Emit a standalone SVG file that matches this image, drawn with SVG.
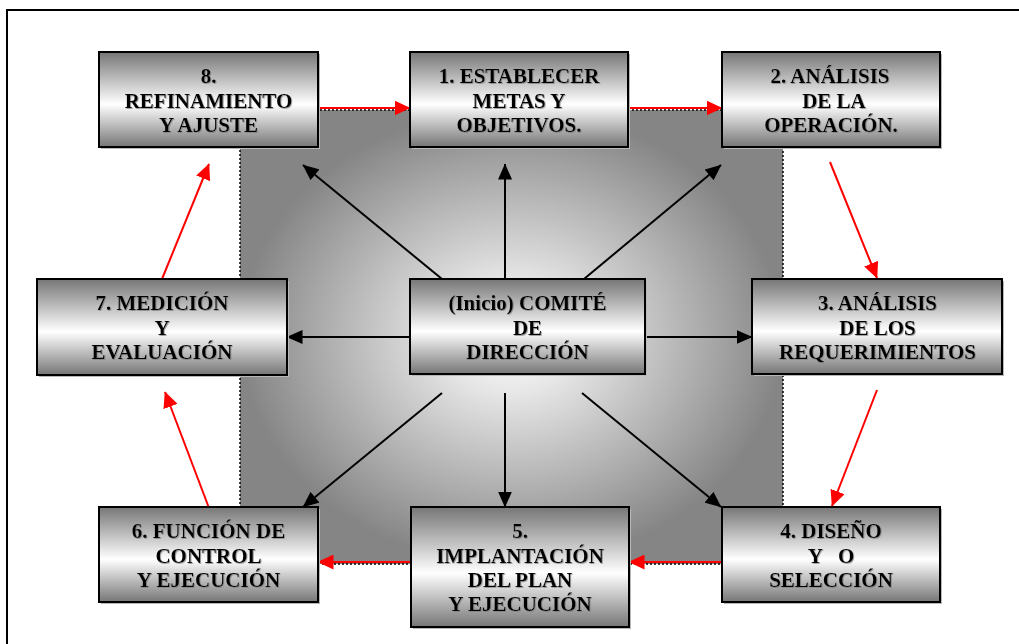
<svg xmlns="http://www.w3.org/2000/svg" width="1019" height="644" viewBox="0 0 1019 644">
<style>
.box{fill:url(#boxg);stroke:#000;stroke-width:2}
.sh{fill:#b8b8b8}
.t{font-family:"Liberation Serif","Times New Roman",serif;font-weight:bold;font-size:21px;fill:#000;text-anchor:middle;filter:url(#ts)}
.blk{stroke:#000;stroke-width:2;fill:none;marker-end:url(#ab)}
.red{stroke:#f00;stroke-width:2;fill:none;marker-end:url(#ar)}
</style>
<defs>
<linearGradient id="boxg" x1="0" y1="0" x2="0" y2="1">
<stop offset="0" stop-color="#767676"/>
<stop offset="0.55" stop-color="#ffffff"/>
<stop offset="1" stop-color="#767676"/>
</linearGradient>
<radialGradient id="bgg" cx="0.5" cy="0.5" r="0.5">
<stop offset="0" stop-color="#ffffff"/>
<stop offset="0.25" stop-color="#e6e6e6"/>
<stop offset="1" stop-color="#858585"/>
</radialGradient>
<filter id="ts" x="-5%" y="-20%" width="110%" height="140%">
<feDropShadow dx="0.8" dy="0.8" stdDeviation="0.4" flood-color="#777" flood-opacity="0.8"/>
</filter>
<marker id="ab" markerUnits="userSpaceOnUse" markerWidth="17" markerHeight="14" refX="15.5" refY="7" orient="auto">
<path d="M0,0 L16,7 L0,14 z" fill="#000"/>
</marker>
<marker id="ar" markerUnits="userSpaceOnUse" markerWidth="17" markerHeight="15" refX="15.5" refY="7.5" orient="auto">
<path d="M0,0 L16,7.5 L0,15 z" fill="#f00"/>
</marker>
</defs>
<rect x="0" y="0" width="1019" height="644" fill="#fff"/>
<rect x="7" y="10" width="1030" height="660" fill="none" stroke="#000" stroke-width="2"/>
<g id="background">
<rect x="240" y="110" width="543" height="454" fill="url(#bgg)" stroke="#000" stroke-width="1.5" stroke-dasharray="2 2"/>
</g>
<g id="connectors">
<line class="red" x1="318" y1="108" x2="410" y2="108"/>
<line class="red" x1="628" y1="108" x2="722" y2="108"/>
<line class="red" x1="830" y1="162" x2="877" y2="278"/>
<line class="red" x1="877" y1="390" x2="832" y2="506"/>
<line class="red" x1="722" y1="562" x2="629" y2="562"/>
<line class="red" x1="411" y1="562" x2="318" y2="562"/>
<line class="red" x1="209" y1="508" x2="165" y2="392"/>
<line class="red" x1="162" y1="279" x2="209" y2="164"/>
<line class="blk" x1="505" y1="279" x2="505" y2="164"/>
<line class="blk" x1="442" y1="279" x2="303" y2="165"/>
<line class="blk" x1="584" y1="279" x2="721" y2="165"/>
<line class="blk" x1="410" y1="337" x2="287" y2="337"/>
<line class="blk" x1="645" y1="337" x2="752" y2="337"/>
<line class="blk" x1="505" y1="393" x2="505" y2="507"/>
<line class="blk" x1="442" y1="393" x2="303" y2="507"/>
<line class="blk" x1="582" y1="393" x2="721" y2="507"/>
</g>
<g id="n8">
<rect class="sh" x="101" y="54" width="219" height="95"/>
<rect class="box" x="99" y="52" width="219" height="95"/>
<text class="t" x="208.5" y="83">8.</text>
<text class="t" x="208.5" y="107.5">REFINAMIENTO</text>
<text class="t" x="208.5" y="131.5">Y AJUSTE</text>
</g>
<g id="n1">
<rect class="sh" x="412" y="54" width="218" height="95"/>
<rect class="box" x="410" y="52" width="218" height="95"/>
<text class="t" x="519" y="83">1. ESTABLECER</text>
<text class="t" x="519" y="107.5">METAS Y</text>
<text class="t" x="519" y="131.5">OBJETIVOS.</text>
</g>
<g id="n2">
<rect class="sh" x="724" y="54" width="218" height="95"/>
<rect class="box" x="722" y="52" width="218" height="95"/>
<text class="t" x="830" y="83">2. ANÁLISIS</text>
<text class="t" x="834" y="107.5">DE LA</text>
<text class="t" x="831" y="131.5">OPERACIÓN.</text>
</g>
<g id="n7">
<rect class="sh" x="39" y="281" width="250" height="96"/>
<rect class="box" x="37" y="279" width="250" height="96"/>
<text class="t" x="162" y="310">7. MEDICIÓN</text>
<text class="t" x="162" y="334.5">Y</text>
<text class="t" x="162" y="359">EVALUACIÓN</text>
</g>
<g id="n0">
<rect class="sh" x="412" y="281" width="235" height="95"/>
<rect class="box" x="410" y="279" width="235" height="95"/>
<text class="t" x="527.5" y="310">(Inicio) COMITÉ</text>
<text class="t" x="527.5" y="334.5">DE</text>
<text class="t" x="527.5" y="358.5">DIRECCIÓN</text>
</g>
<g id="n3">
<rect class="sh" x="754" y="281" width="250" height="95"/>
<rect class="box" x="752" y="279" width="250" height="95"/>
<text class="t" x="877.5" y="310">3. ANÁLISIS</text>
<text class="t" x="877.5" y="334.5">DE LOS</text>
<text class="t" x="877.5" y="358.5">REQUERIMIENTOS</text>
</g>
<g id="n6">
<rect class="sh" x="101" y="509" width="219" height="95"/>
<rect class="box" x="99" y="507" width="219" height="95"/>
<text class="t" x="208.5" y="538">6. FUNCIÓN DE</text>
<text class="t" x="208.5" y="562.5">CONTROL</text>
<text class="t" x="208.5" y="587">Y EJECUCIÓN</text>
</g>
<g id="n5">
<rect class="sh" x="413" y="509" width="218" height="120"/>
<rect class="box" x="411" y="507" width="218" height="120"/>
<text class="t" x="520" y="538">5.</text>
<text class="t" x="520" y="562.5">IMPLANTACIÓN</text>
<text class="t" x="520" y="587">DEL PLAN</text>
<text class="t" x="520" y="610.5">Y EJECUCIÓN</text>
</g>
<g id="n4">
<rect class="sh" x="724" y="509" width="218" height="95"/>
<rect class="box" x="722" y="507" width="218" height="95"/>
<text class="t" x="831" y="537.5">4. DISEÑO</text>
<text class="t" x="831" y="562.5" xml:space="preserve" style="white-space:pre">Y   O</text>
<text class="t" x="831" y="587">SELECCIÓN</text>
</g>
</svg>
